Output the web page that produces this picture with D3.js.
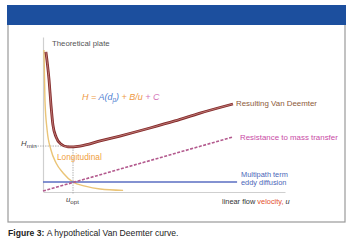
<!DOCTYPE html>
<html>
<head>
<meta charset="utf-8">
<script src="https://cdn.jsdelivr.net/npm/d3@7"></script>
<style>
  body { margin: 0; background: #fff; }
  text { font-family: "Liberation Sans", Arial, sans-serif; }
</style>
</head>
<body>
<div id="chart"></div>
<script>
// Curve points (u = flow velocity, H = plate height, arbitrary units)
var vdU = [1.2, 2.5, 3.3, 4.1, 5.4, 7.4, 10.3, 15.3, 23.6, 31.8, 44.2, 54.5, 64.9, 78.5];
var vdH = [90.3, 72.1, 55.8, 42.9, 35.1, 30.5, 28.6, 29.2, 32.5, 35.7, 40.9, 45.5, 50.6, 56.5];

var longU = [0.4, 0.8, 1.7, 3.3, 5.4, 8.3, 12.4, 17.4, 23.6, 33.1];
var longH = [91.6, 59.1, 39.6, 26.6, 18.2, 11.7, 5.8, 3.2, 1.3, 0.4];

var massU = [0, 78.5];
var massH = [0, 35.1];

var eddyU = [0, 80.2];
var eddyH = [5.8, 5.8];

var uOpt = 12.4;
var hMin = 29.2;

// Size of the page
var width = 350, height = 240;

var svg = d3.select("#chart").append("svg")
    .attr("width", width)
    .attr("height", height);

// Frame with the blue title band
svg.append("rect")
    .attr("x", 8).attr("y", 6)
    .attr("width", 337).attr("height", 216)
    .attr("fill", "#fff")
    .attr("stroke", "#9a9a9a")
    .attr("stroke-width", 1.2);
svg.append("rect")
    .attr("x", 7).attr("y", 5)
    .attr("width", 339).attr("height", 20)
    .attr("fill", "#1c4f9e");

// Scales
var x = d3.scaleLinear().domain([0, 100]).range([43, 285]);
var y = d3.scaleLinear().domain([0, 100]).range([191, 37]);

// Axes (plain lines, no ticks)
var xAxis = d3.axisBottom(x).tickValues([]).tickSizeOuter(0);
var yAxis = d3.axisLeft(y).tickValues([]).tickSizeOuter(0);
svg.append("g")
    .attr("transform", "translate(0," + (y(0) + 1) + ")")
    .call(xAxis)
    .select(".domain").attr("stroke", "#cfcfcf").attr("stroke-width", 1.2);
svg.append("g")
    .attr("transform", "translate(" + x(0) + ",0)")
    .call(yAxis)
    .select(".domain").attr("stroke", "#cfcfcf").attr("stroke-width", 1.2);

function zip(us, hs) {
  return us.map(function (u, i) { return { u: u, h: hs[i] }; });
}

var line = d3.line()
    .x(function (d) { return x(d.u); })
    .y(function (d) { return y(d.h); })
    .curve(d3.curveMonotoneX);

var straight = d3.line()
    .x(function (d) { return x(d.u); })
    .y(function (d) { return y(d.h); });

// Reference lines for H min and u opt
svg.append("line")
    .attr("x1", x(0) - 8).attr("x2", x(uOpt) - 4)
    .attr("y1", y(hMin)).attr("y2", y(hMin))
    .attr("stroke", "#a0a0a0").attr("stroke-width", 0.8)
    .attr("stroke-dasharray", "1.5,1");
svg.append("line")
    .attr("x1", x(uOpt)).attr("x2", x(uOpt))
    .attr("y1", y(hMin) + 1).attr("y2", y(0) + 3)
    .attr("stroke", "#a0a0a0").attr("stroke-width", 0.8)
    .attr("stroke-dasharray", "1.5,1");

// Longitudinal diffusion (B/u)
svg.append("path")
    .datum(zip(longU, longH))
    .attr("d", line)
    .attr("fill", "none")
    .attr("stroke", "#eac477")
    .attr("stroke-width", 1.4);

// Eddy diffusion (A)
svg.append("path")
    .datum(zip(eddyU, eddyH))
    .attr("d", straight)
    .attr("fill", "none")
    .attr("stroke", "#5a6ec2")
    .attr("stroke-width", 1.5);

// Resistance to mass transfer (C u)
svg.append("path")
    .datum(zip(massU, massH))
    .attr("d", straight)
    .attr("fill", "none")
    .attr("stroke", "#b35a8e")
    .attr("stroke-width", 1.6)
    .attr("stroke-dasharray", "3,1.5");

// Resulting Van Deemter curve, dark band with a lighter core
svg.append("path")
    .datum(zip(vdU, vdH))
    .attr("d", line)
    .attr("fill", "none")
    .attr("stroke", "#842a2a")
    .attr("stroke-width", 2.8);
svg.append("path")
    .datum(zip(vdU, vdH))
    .attr("d", line)
    .attr("fill", "none")
    .attr("stroke", "#c98a86")
    .attr("stroke-width", 0.8);

// Labels
svg.append("text")
    .attr("x", 52).attr("y", 46)
    .style("font-size", "7.8px")
    .attr("fill", "#555")
    .text("Theoretical plate");

var eq = svg.append("text")
    .attr("x", 82).attr("y", 100)
    .style("font-size", "9px")
    .style("font-style", "italic");
eq.append("tspan").attr("fill", "#ee9a45").text("H = ");
eq.append("tspan").attr("fill", "#4f7fd2").text("A(d");
eq.append("tspan").attr("fill", "#4f7fd2").attr("dy", 2).style("font-size", "6.3px").text("p");
eq.append("tspan").attr("fill", "#4f7fd2").attr("dy", -2).text(")");
eq.append("tspan").attr("fill", "#ee9a45").text(" + B/u ");
eq.append("tspan").attr("fill", "#d475b8").text("+ C");

svg.append("text")
    .attr("x", 236).attr("y", 106)
    .style("font-size", "7.9px")
    .attr("fill", "#8d5a3a")
    .text("Resulting Van Deemter");

svg.append("text")
    .attr("x", 240).attr("y", 140)
    .style("font-size", "7.9px")
    .attr("fill", "#c94aa6")
    .text("Resistance to mass transfer");

svg.append("text")
    .attr("x", 241).attr("y", 177)
    .style("font-size", "7.4px")
    .attr("fill", "#4a66b8")
    .text("Multipath term");
svg.append("text")
    .attr("x", 241).attr("y", 185)
    .style("font-size", "7.4px")
    .attr("fill", "#4a66b8")
    .text("eddy diffusion");

var xl = svg.append("text")
    .attr("x", 222).attr("y", 204)
    .style("font-size", "7.4px");
xl.append("tspan").attr("fill", "#333").text("linear flow ");
xl.append("tspan").attr("fill", "#e4502e").text("velocity, ");
xl.append("tspan").attr("fill", "#333").style("font-style", "italic").text("u");

svg.append("text")
    .attr("x", 57).attr("y", 160)
    .style("font-size", "8.3px")
    .attr("fill", "#f0a040")
    .text("Longitudinal");

var hm = svg.append("text")
    .attr("x", 21).attr("y", 146)
    .style("font-size", "7.8px")
    .attr("fill", "#444");
hm.append("tspan").style("font-style", "italic").text("H");
hm.append("tspan").attr("dy", 1.5).style("font-size", "6.2px").text("min");

var uo = svg.append("text")
    .attr("x", 66).attr("y", 202)
    .style("font-size", "7.8px")
    .attr("fill", "#444");
uo.append("tspan").style("font-style", "italic").text("u");
uo.append("tspan").attr("dy", 1.5).style("font-size", "6.2px").text("opt");

// Caption
var cap = svg.append("text")
    .attr("x", 8).attr("y", 236)
    .style("font-size", "8.6px")
    .attr("fill", "#222");
cap.append("tspan").style("font-weight", "bold").text("Figure 3: ");
cap.append("tspan").text("A hypothetical Van Deemter curve.");
</script>
</body>
</html>
